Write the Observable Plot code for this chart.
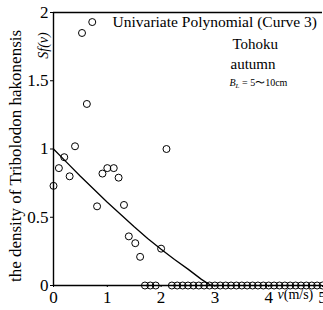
<!DOCTYPE html>
<html>
<head>
<meta charset="utf-8">
<script src="https://cdn.jsdelivr.net/npm/d3@7"></script>
<script src="https://cdn.jsdelivr.net/npm/@observablehq/plot@0.6"></script>
<style>
  html, body { margin: 0; padding: 0; background: #fff; }
  #chart { width: 323px; height: 310px; overflow: hidden; }
</style>
</head>
<body>
<div id="chart"></div>
<script>
// observed points (non-zero)
const obsV = [0, 0.1, 0.2, 0.3, 0.4, 0.53, 0.62, 0.72, 0.81, 0.91, 1.0, 1.12, 1.21, 1.31, 1.4, 1.52, 1.61, 2.0, 2.1];
const obsS = [0.73, 0.86, 0.94, 0.80, 1.02, 1.85, 1.33, 1.93, 0.58, 0.82, 0.86, 0.86, 0.79, 0.59, 0.36, 0.31, 0.21, 0.27, 1.0];
// observed points at zero density
const zeroV = [1.7, 1.8, 1.9, 2.2, 2.3, 2.4, 2.5, 2.6, 2.7, 2.8, 2.9, 3.0, 3.1, 3.2, 3.3, 3.4, 3.5, 3.6, 3.7, 3.8, 3.9, 4.0, 4.1, 4.2, 4.3, 4.4, 4.5, 4.6, 4.7, 4.8, 4.9, 5.0];
// fitted curve
const curveV = [0, 0.25, 0.5, 0.75, 1.0, 1.25, 1.5, 1.75, 2.0, 2.25, 2.5, 2.75, 2.93];
const curveS = [1.0, 0.90, 0.80, 0.705, 0.61, 0.52, 0.43, 0.345, 0.265, 0.19, 0.12, 0.045, 0.0];
const xTicks = [0, 1, 2, 3, 4, 5];
const yTicks = [0, 0.5, 1, 1.5, 2];
const titleLines = ["Univariate Polynomial (Curve 3)", "Tohoku", "autumn", "B_L = 5\u301c10cm"];
const yLabel = "the density of Tribolodon hakonensis";
const yVar = "Sf(v)";
const xLabel = "v(m/s)";

const points = obsV.map((v, i) => ({v, s: obsS[i]})).concat(zeroV.map(v => ({v, s: 0})));
const curve = curveV.map((v, i) => ({v, s: curveS[i]}));

const font = "Liberation Serif, Times New Roman, serif";

const chart = Plot.plot({
  width: 323,
  height: 310,
  marginLeft: 53,
  marginRight: 1,
  marginTop: 12,
  marginBottom: 25,
  style: {fontFamily: font, color: "#000", background: "#fff", overflow: "hidden"},
  x: {domain: [0, 5]},
  y: {domain: [0, 2]},
  marks: [
    Plot.axisX({ticks: xTicks, tickSize: 2, tickPadding: 3, fontSize: 17, label: null, tickFormat: d => String(d)}),
    Plot.axisY({ticks: yTicks, tickSize: 3, tickPadding: 2, fontSize: 17, label: null, tickFormat: d => String(d)}),
    Plot.ruleX([0], {strokeWidth: 1.4}),
    Plot.ruleY([0], {strokeWidth: 1.4}),
    Plot.ruleY([2], {strokeWidth: 1.4}),
    Plot.line(curve, {x: "v", y: "s", stroke: "#000", strokeWidth: 1.3}),
    Plot.dot(points, {x: "v", y: "s", r: 3.5, stroke: "#000", strokeWidth: 1, fill: "none"}),
    Plot.text([yLabel], {frameAnchor: "left", text: d => d, dx: -38, dy: 7, rotate: -90, fontSize: 17, textAnchor: "middle", lineAnchor: "middle"}),
    Plot.text([yVar], {frameAnchor: "top-left", text: d => d, dx: -10, dy: 33, rotate: -90, fontSize: 14, fontStyle: "italic", textAnchor: "middle", lineAnchor: "middle"}),
    Plot.text([titleLines[0]], {frameAnchor: "top-left", text: d => d, dx: 59, dy: 3, fontSize: 15.5, textAnchor: "start"}),
    Plot.text([titleLines[1]], {frameAnchor: "top-left", text: d => d, dx: 179, dy: 26, fontSize: 15, textAnchor: "start"}),
    Plot.text([titleLines[2]], {frameAnchor: "top-left", text: d => d, dx: 177, dy: 46, fontSize: 15, textAnchor: "start"}),
    Plot.text([titleLines[3]], {frameAnchor: "top-left", text: d => d, dx: 176, dy: 66, fontSize: 10, textAnchor: "start", className: "bl"}),
    Plot.text([xLabel], {frameAnchor: "bottom-left", text: d => d, dx: 224, dy: 13, fontSize: 14, textAnchor: "start", className: "xlab"})
  ]
});
document.getElementById("chart").appendChild(chart);

// rich text: italic B with subscript L, italic v
const svg = d3.select(chart);
svg.selectAll("g.bl text").each(function() {
  const t = d3.select(this);
  const rest = t.text().replace(/^B_L/, "");
  t.text("");
  t.append("tspan").attr("font-style", "italic").text("B");
  t.append("tspan").attr("font-style", "italic").attr("font-size", 7).attr("dy", 2).text("L");
  t.append("tspan").attr("dy", -2).text(rest);
});
svg.selectAll("g.xlab text").each(function() {
  const t = d3.select(this);
  const s = t.text();
  t.text("");
  t.append("tspan").attr("font-style", "italic").text(s.slice(0, 1));
  t.append("tspan").text(s.slice(1));
});
</script>
</body>
</html>
